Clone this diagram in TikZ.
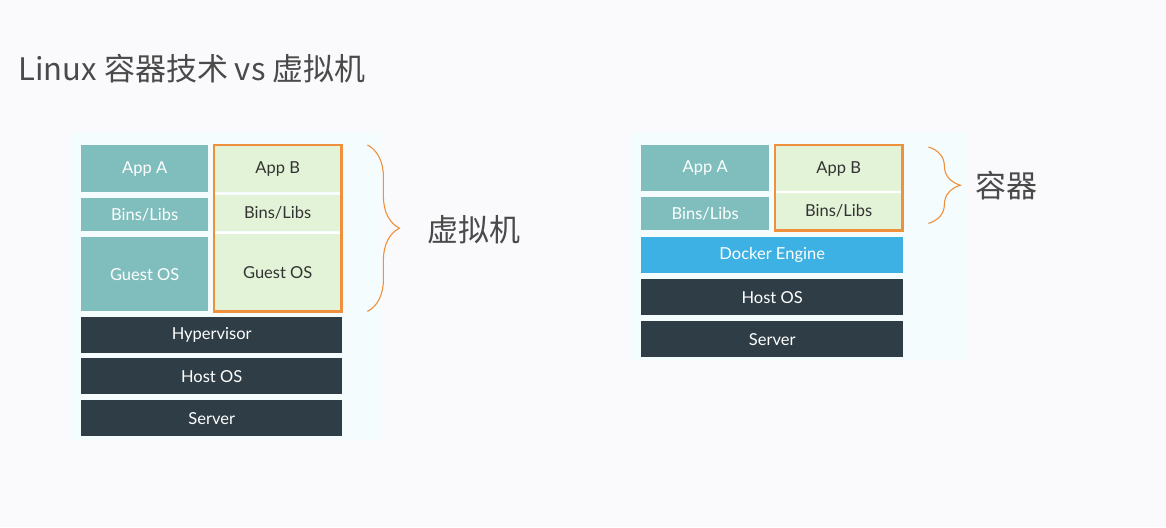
\documentclass[tikz,border=0pt]{standalone}
\usepackage{fontspec}
\setsansfont{Lato}
\newfontfamily\cjk{Noto Sans CJK SC}
\usetikzlibrary{positioning,calc,decorations.pathreplacing}
\definecolor{bgGray}{HTML}{FAFAFC}
\definecolor{panelCyan}{HTML}{F5FCFD}
\definecolor{appTeal}{HTML}{80BEBD}
\definecolor{appGreen}{HTML}{E3F3D7}
\definecolor{boxOrange}{HTML}{EE903C}
\definecolor{hostDark}{HTML}{2F3E46}
\definecolor{dockerBlue}{HTML}{3DB1E3}
\definecolor{titleGray}{HTML}{4A4A4A}

\begin{document}
\begin{tikzpicture}[
    x=1pt, y=-1pt,
    every node/.style={font=\sffamily\fontsize{16.5}{19}\selectfont},
    layer/.style={rectangle, inner sep=0pt, anchor=north west},
    teal box/.style={layer, fill=appTeal, text=white},
    green box/.style={layer, fill=appGreen, text=black!80},
    dark box/.style={layer, fill=hostDark, text=white},
    orange frame/.style={draw=boxOrange, line width=2.5pt},
    curly/.style={draw=boxOrange, line width=1.1pt, decorate,
      decoration={brace, amplitude=32pt}},
    side label/.style={font=\cjk\fontsize{31}{34}\selectfont, text=titleGray, anchor=west},
  ]
  % canvas
  \fill[bgGray] (0,0) rectangle (1166,527);
  \useasboundingbox (0,0) rectangle (1166,527);
  \fill[panelCyan] (70,132) rectangle (382,440);
  \fill[panelCyan] (630,132) rectangle (966,360);

  % Title
  \node[anchor=west, font=\cjk\fontsize{31}{36}\selectfont, text=titleGray]
    (title) at (15,69) {Linux 容器技术 vs 虚拟机};

  % Virtual machine stack
  \node[teal box, minimum width=127pt, minimum height=47pt] (vmAppA) at (81,145) {App A};
  \node[teal box, minimum width=127pt, minimum height=33pt] (vmBinsA) at (81,198) {Bins/Libs};
  \node[teal box, minimum width=127pt, minimum height=74pt] (vmGuestA) at (81,237) {Guest OS};
  \node[green box, minimum width=127pt, minimum height=47pt] (vmAppB) at (214,145) {App B};
  \node[green box, minimum width=127pt, minimum height=36pt] (vmBinsB) at (214,195) {Bins/Libs};
  \node[green box, minimum width=127pt, minimum height=77pt] (vmGuestB) at (214,234) {Guest OS};
  \draw[white, line width=1.5pt] (214,193.5) -- (341,193.5);
  \draw[white, line width=1.5pt] (214,233) -- (341,233);
  \draw[orange frame] (vmAppB.north west) rectangle (vmGuestB.south east);
  \node[dark box, minimum width=261pt, minimum height=36pt] (hyper) at (81,317) {Hypervisor};
  \node[dark box, minimum width=261pt, minimum height=36pt] (vmHost) at (81,358) {Host OS};
  \node[dark box, minimum width=261pt, minimum height=36pt] (vmServer) at (81,400) {Server};

  \draw[curly] ($(vmAppB.north east)+(26,0)$) -- ($(vmGuestB.south east)+(26,0)$);
  \node[side label] (vmLabel) at (424,230) {虚拟机};

  % Container stack
  \node[teal box, minimum width=128pt, minimum height=46pt] (ctAppA) at (641,145) {App A};
  \node[teal box, minimum width=128pt, minimum height=33pt] (ctBinsA) at (641,197) {Bins/Libs};
  \node[green box, minimum width=127pt, minimum height=47pt] (ctAppB) at (775,145) {App B};
  \node[green box, minimum width=127pt, minimum height=38pt] (ctBinsB) at (775,192) {Bins/Libs};
  \draw[white, line width=1.5pt] (775,192) -- (902,192);
  \draw[orange frame] (ctAppB.north west) rectangle (ctBinsB.south east);
  \node[layer, fill=dockerBlue, text=white, minimum width=262pt, minimum height=36pt]
    (docker) at (641,237) {Docker Engine};
  \node[dark box, minimum width=262pt, minimum height=36pt] (ctHost) at (641,279) {Host OS};
  \node[dark box, minimum width=262pt, minimum height=36pt] (ctServer) at (641,321) {Server};

  \draw[curly] ($(ctAppB.north east)+(26,2)$) -- ($(ctBinsB.south east)+(26,-7)$);
  \node[side label] (ctLabel) at (972,186) {容器};
\end{tikzpicture}
\end{document}
